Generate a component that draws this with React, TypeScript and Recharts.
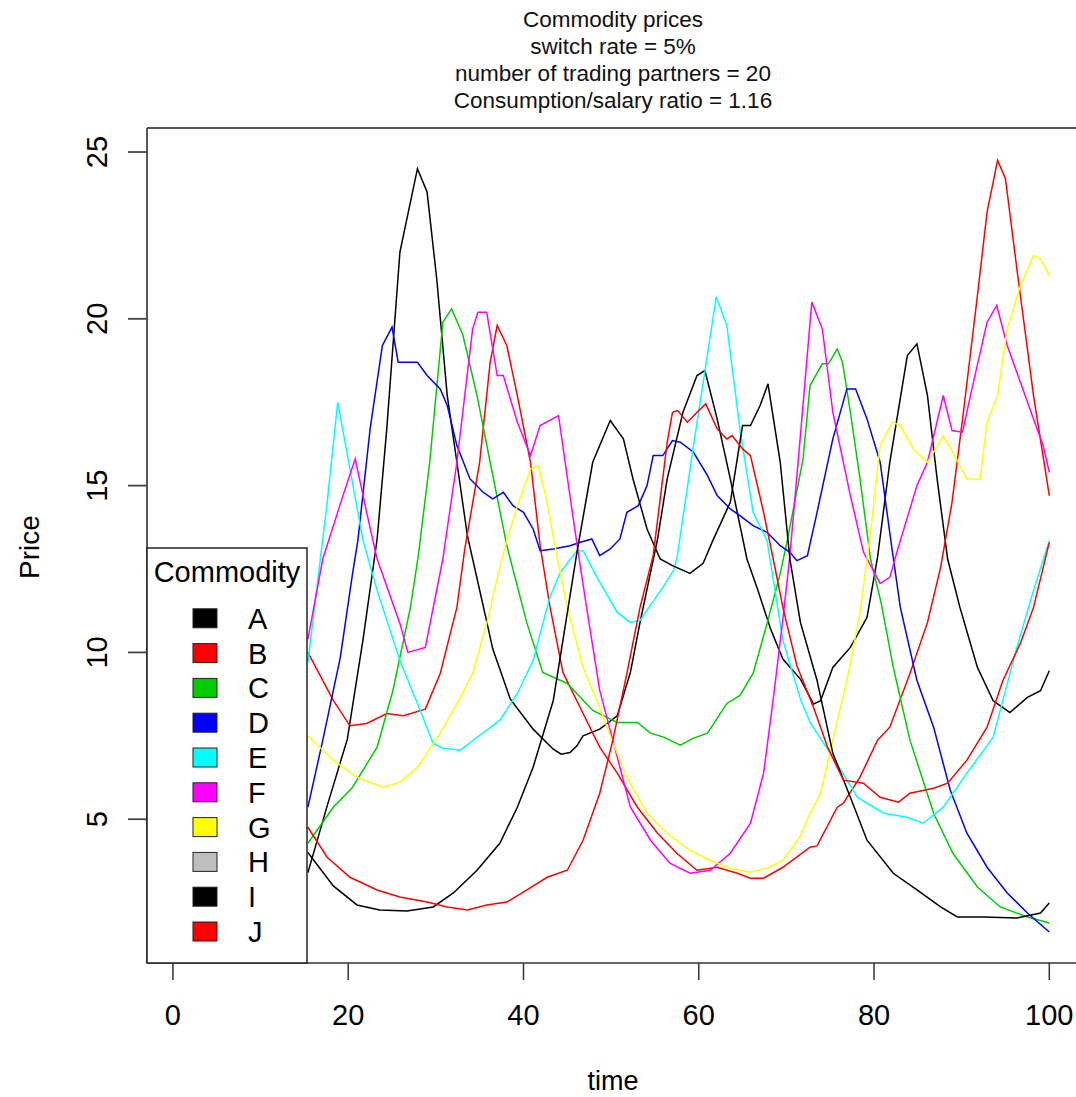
import { LineChart, Line, XAxis, YAxis, ReferenceLine } from "recharts";

const FONT = "'Liberation Sans', Arial, Helvetica, sans-serif";

const commodities = ["A", "B", "C", "D", "E", "F", "G", "H", "I", "J"];
const colors = ["#000000", "#FF0000", "#00CD00", "#0000FF", "#00FFFF", "#FF00FF", "#FFFF00", "#BEBEBE", "#000000", "#FF0000"];
const titleLines = [
  "Commodity prices",
  "switch rate = 5%",
  "number of trading partners = 20",
  "Consumption/salary ratio = 1.16",
];
const xTicks = [0, 20, 40, 60, 80, 100];
const yTicks = [5, 10, 15, 20, 25];

// [time, price]
const priceA: [number, number][] = [
  [15.4, 3.4], [17.6, 5.4], [19.9, 7.4], [21.7, 10.4], [23.3, 13.4], [24.4, 16.7], [25.9, 22.0], [27.9, 24.5],
  [29.0, 23.8], [30.1, 21.2], [31.3, 17.7], [32.4, 15.7], [33.6, 13.5], [35.4, 11.4], [36.5, 10.1], [38.5, 8.6],
  [41.1, 7.7], [43.4, 7.1], [44.3, 6.95], [45.3, 7.0], [46.1, 7.2], [46.8, 7.5], [48.7, 7.7], [50.7, 8.1],
  [52.2, 9.4], [53.3, 10.9], [54.5, 12.4], [55.3, 13.4], [56.4, 15.2], [58.2, 17.2], [59.8, 18.3], [60.7, 18.45],
  [62.1, 17.0], [63.6, 15.2], [65.5, 12.8], [66.7, 11.9], [68.2, 10.7], [69.6, 9.8], [71.6, 9.2], [73.1, 8.45],
  [73.9, 8.55], [75.3, 9.55], [77.3, 10.15], [79.2, 11.05], [80.4, 12.85], [81.8, 15.7], [83.8, 18.9], [84.9, 19.25],
  [86.1, 17.7], [87.2, 15.2], [88.4, 12.8], [89.8, 11.35], [91.8, 9.55], [93.6, 8.55], [95.5, 8.2], [97.5, 8.65],
  [99.0, 8.85], [100, 9.45],
];
const priceB: [number, number][] = [
  [15.4, 10.0], [18.3, 8.56], [20.2, 7.8], [22.1, 7.87], [24.4, 8.17], [26.3, 8.1], [28.8, 8.3], [30.5, 9.37],
  [32.4, 11.35], [33.3, 13.1], [35.0, 15.7], [36.2, 18.7], [37.0, 19.8], [38.1, 19.2], [39.3, 17.7], [40.8, 15.7],
  [41.9, 13.2], [43.0, 11.4], [44.5, 9.4], [46.8, 8.17], [48.7, 7.16], [50.7, 6.38], [53.0, 5.36], [55.3, 4.58],
  [57.5, 3.98], [59.8, 3.47], [62.1, 3.56], [64.4, 3.38], [65.9, 3.23], [67.4, 3.23], [69.6, 3.56], [72.7, 4.16],
  [73.5, 4.2], [75.8, 5.36], [76.5, 5.48], [78.4, 6.26], [80.4, 7.37], [81.8, 7.76], [84.1, 9.37], [86.1, 10.9],
  [87.6, 12.55], [88.9, 14.5], [90.2, 17.2], [91.8, 20.7], [92.9, 23.2], [94.1, 24.75], [95.0, 24.2], [96.3, 21.5],
  [98.2, 17.7], [100, 14.7],
];
const priceC: [number, number][] = [
  [15.4, 4.28], [18.3, 5.36], [20.5, 5.96], [23.3, 7.16], [25.1, 8.86], [27.1, 11.35], [28.0, 12.9], [29.3, 15.7],
  [30.8, 19.9], [31.8, 20.3], [33.1, 19.5], [34.7, 17.7], [36.2, 15.7], [38.1, 13.2], [40.4, 10.87], [42.2, 9.4],
  [45.0, 9.07], [47.9, 8.26], [50.7, 7.9], [53.0, 7.9], [54.5, 7.58], [56.0, 7.46], [57.9, 7.22], [59.4, 7.43],
  [61.0, 7.58], [63.2, 8.47], [64.7, 8.71], [66.2, 9.37], [67.8, 10.87], [69.3, 12.37], [70.1, 13.35], [71.9, 15.8],
  [72.7, 18.0], [74.1, 18.65], [74.8, 18.65], [75.8, 19.1], [76.4, 18.7], [77.3, 17.2], [78.4, 15.2], [79.6, 12.8],
  [80.8, 11.5], [82.2, 9.55], [84.1, 7.37], [86.8, 5.18], [89.0, 3.98], [91.8, 2.97], [94.4, 2.37], [97.5, 2.07],
  [100, 1.89],
];
const priceD: [number, number][] = [
  [15.4, 5.36], [17.1, 7.37], [19.1, 9.85], [20.5, 12.37], [21.1, 13.35], [22.5, 16.7], [23.9, 19.2], [25.0, 19.75],
  [25.7, 18.7], [27.9, 18.7], [29.0, 18.3], [30.5, 17.9], [31.3, 17.4], [32.4, 16.2], [33.9, 15.2], [35.4, 14.8],
  [36.5, 14.6], [37.7, 14.8], [38.8, 14.4], [40.0, 14.2], [41.1, 13.7], [41.9, 13.05], [43.4, 13.1], [45.3, 13.2],
  [46.5, 13.3], [47.8, 13.4], [48.7, 12.9], [49.9, 13.1], [51.0, 13.4], [51.8, 14.2], [53.1, 14.4], [54.1, 15.0],
  [54.8, 15.9], [55.9, 15.9], [57.0, 16.35], [57.9, 16.3], [59.4, 16.0], [61.0, 15.3], [62.1, 14.7], [63.6, 14.3],
  [64.7, 14.1], [66.2, 13.8], [67.8, 13.6], [69.3, 13.2], [70.4, 13.0], [71.2, 12.75], [72.4, 12.9], [73.5, 14.2],
  [75.3, 16.4], [76.9, 17.9], [77.9, 17.9], [79.2, 17.0], [80.7, 15.7], [82.0, 13.2], [83.0, 11.35], [84.9, 9.16],
  [86.8, 7.76], [88.7, 5.87], [90.6, 4.58], [92.9, 3.56], [95.2, 2.79], [97.5, 2.19], [100, 1.62],
];
const priceE: [number, number][] = [
  [15.4, 9.7], [17.6, 14.5], [18.8, 17.5], [21.7, 13.35], [23.3, 11.86], [25.9, 9.76], [27.9, 8.47], [29.7, 7.27],
  [30.8, 7.13], [32.8, 7.07], [34.2, 7.36], [35.8, 7.67], [37.3, 7.97], [39.3, 8.77], [41.1, 9.76], [43.0, 11.65],
  [44.2, 12.4], [46.1, 13.05], [46.8, 13.05], [48.5, 12.2], [50.7, 11.2], [52.2, 10.9], [53.3, 10.96], [55.9, 11.95],
  [57.1, 12.45], [57.5, 12.8], [59.4, 16.2], [62.0, 20.66], [63.2, 19.8], [64.7, 16.7], [66.2, 14.2], [67.8, 13.35],
  [69.6, 10.36], [71.6, 8.6], [72.7, 7.9], [75.3, 6.86], [78.1, 5.66], [81.1, 5.18], [83.8, 5.06], [85.6, 4.88],
  [87.9, 5.36], [90.6, 6.38], [93.6, 7.46], [96.3, 10.15], [98.2, 11.86], [100, 13.35],
];
const priceF: [number, number][] = [
  [15.4, 10.4], [17.1, 12.8], [19.4, 14.7], [20.8, 15.8], [22.1, 14.2], [23.3, 12.8], [25.9, 10.87], [26.8, 10.0],
  [28.8, 10.15], [30.8, 12.8], [32.4, 15.7], [34.2, 19.7], [34.8, 20.2], [35.8, 20.2], [37.0, 18.3], [37.7, 18.3],
  [39.3, 16.9], [40.8, 15.9], [41.9, 16.8], [44.0, 17.1], [45.3, 14.7], [46.3, 12.9], [47.2, 11.35], [48.7, 8.86],
  [50.7, 6.86], [52.2, 5.36], [54.5, 4.37], [56.7, 3.68], [59.0, 3.38], [61.3, 3.47], [63.6, 3.98], [65.9, 4.88],
  [67.4, 6.38], [68.5, 8.6], [69.6, 11.0], [70.4, 12.9], [71.6, 16.5], [72.9, 20.5], [74.1, 19.7], [75.3, 17.2],
  [77.3, 14.7], [78.8, 13.0], [80.7, 12.07], [81.8, 12.25], [82.6, 13.0], [84.9, 15.0], [86.1, 15.7], [87.9, 17.7],
  [88.9, 16.65], [90.1, 16.6], [91.0, 17.7], [92.9, 19.9], [94.0, 20.4], [95.2, 19.2], [96.7, 18.1], [98.2, 17.0],
  [99.3, 16.2], [100, 15.4],
];
const priceG: [number, number][] = [
  [15.4, 7.5], [18.3, 6.77], [21.0, 6.26], [24.0, 5.96], [25.9, 6.11], [27.9, 6.56], [30.5, 7.58], [32.8, 8.65],
  [34.2, 9.37], [35.8, 10.87], [37.3, 12.55], [38.1, 13.35], [39.3, 14.4], [40.8, 15.5], [41.7, 15.6], [42.7, 14.5],
  [43.8, 12.9], [45.0, 11.35], [46.8, 9.55], [48.7, 8.35], [50.1, 7.37], [51.8, 6.26], [54.1, 5.18], [56.4, 4.58],
  [59.0, 4.07], [61.3, 3.77], [63.6, 3.53], [65.9, 3.41], [67.8, 3.53], [69.6, 3.77], [71.6, 4.5], [72.7, 5.18],
  [73.9, 5.78], [75.3, 7.37], [76.9, 9.16], [78.4, 11.17], [79.6, 13.6], [80.7, 16.2], [82.1, 16.9], [83.0, 16.8],
  [84.5, 16.1], [86.1, 15.7], [87.9, 16.5], [89.0, 16.0], [90.6, 15.2], [92.1, 15.2], [92.9, 16.9], [94.1, 17.7],
  [95.2, 19.7], [96.7, 21.0], [98.2, 21.9], [99.0, 21.8], [100, 21.3],
];
const priceH: [number, number][] = [];
const priceI: [number, number][] = [
  [15.4, 4.0], [18.3, 3.0], [21.0, 2.43], [23.6, 2.28], [26.7, 2.25], [29.7, 2.37], [32.0, 2.79], [34.7, 3.47],
  [37.3, 4.28], [39.3, 5.36], [41.1, 6.56], [43.4, 8.56], [44.5, 10.36], [46.1, 13.0], [47.9, 15.7], [49.9, 16.95],
  [51.4, 16.4], [52.5, 15.2], [54.1, 13.7], [55.6, 12.8], [57.0, 12.6], [59.0, 12.37], [60.5, 12.67], [61.6, 13.35],
  [63.6, 14.5], [65.0, 16.8], [65.9, 16.8], [67.0, 17.4], [67.9, 18.05], [69.3, 15.7], [70.4, 12.8], [71.6, 10.9],
  [73.5, 9.16], [75.3, 6.98], [77.3, 5.66], [79.2, 4.37], [82.2, 3.38], [84.9, 2.88], [87.6, 2.37], [89.5, 2.07],
  [92.5, 2.07], [96.3, 2.04], [99.0, 2.19], [100, 2.49],
];
const priceJ: [number, number][] = [
  [15.4, 4.76], [17.6, 3.86], [20.2, 3.26], [23.3, 2.88], [25.9, 2.67], [29.0, 2.52], [31.3, 2.37], [33.6, 2.28],
  [35.8, 2.43], [38.1, 2.52], [40.4, 2.88], [42.7, 3.26], [45.0, 3.47], [46.8, 4.37], [48.7, 5.78], [50.2, 7.37],
  [51.8, 9.37], [53.3, 11.35], [54.8, 12.9], [56.4, 16.3], [57.0, 17.2], [57.6, 17.25], [58.7, 16.9], [59.8, 17.2],
  [60.8, 17.45], [62.1, 16.7], [63.2, 16.4], [63.8, 16.5], [65.0, 16.1], [65.9, 15.9], [67.4, 14.2], [68.5, 12.8],
  [69.6, 11.35], [71.2, 9.6], [73.1, 8.35], [74.7, 7.16], [76.5, 6.17], [78.8, 6.08], [80.7, 5.66], [82.8, 5.51],
  [84.1, 5.78], [86.8, 5.93], [88.4, 6.08], [90.6, 6.77], [92.9, 7.76], [94.7, 9.16], [96.7, 10.27], [98.2, 11.35],
  [100, 13.3],
];

const seriesPoints = [priceA, priceB, priceC, priceD, priceE, priceF, priceG, priceH, priceI, priceJ];

function PriceTick(props: any) {
  const { x, y, payload } = props;
  const tx = x - 21;
  return (
    <text
      x={tx}
      y={y}
      transform={`rotate(-90 ${tx} ${y})`}
      textAnchor="middle"
      fontSize={29}
      fontFamily={FONT}
      fill="#000"
    >
      {payload.value}
    </text>
  );
}

export default function App() {
  return (
    <div
      style={{
        position: "absolute",
        left: 0,
        top: 0,
        width: 1076,
        height: 1097,
        overflow: "hidden",
        background: "#fff",
        fontFamily: FONT,
      }}
    >
      <LineChart width={1084} height={1097} margin={{ top: 128, right: 0, bottom: 74, left: 87 }}>
        <XAxis
          type="number"
          dataKey="t"
          domain={[-2.96, 103.96]}
          ticks={xTicks}
          interval={0}
          allowDataOverflow
          height={60}
          tickSize={17}
          tickMargin={24}
          stroke="#333"
          strokeWidth={1.5}
          tick={{ fontSize: 29, fill: "#000", fontFamily: FONT }}
        />
        <YAxis
          type="number"
          dataKey="v"
          domain={[0.69, 25.72]}
          ticks={yTicks}
          interval={0}
          allowDataOverflow
          width={60}
          tickSize={19}
          tickMargin={0}
          stroke="#444"
          strokeWidth={1.8}
          tick={<PriceTick />}
        />
        <ReferenceLine y={25.72} stroke="#555" strokeWidth={2} />
        {commodities.map((name, i) =>
          seriesPoints[i].length ? (
            <Line
              key={name}
              name={name}
              data={seriesPoints[i].map(([t, v]) => ({ t, v }))}
              dataKey="v"
              type="linear"
              stroke={colors[i]}
              strokeWidth={1.5}
              dot={false}
              isAnimationActive={false}
            />
          ) : null
        )}
      </LineChart>

      <svg
        width={1076}
        height={1097}
        style={{ position: "absolute", left: 0, top: 0, pointerEvents: "none" }}
        fontFamily={FONT}
      >
        {titleLines.map((line, i) => (
          <text key={line} x={613} y={27 + i * 27} textAnchor="middle" fontSize={22.5} fill="#111">
            {line}
          </text>
        ))}
        <text x={39} y={547} transform="rotate(-90 39 547)" textAnchor="middle" fontSize={28} fill="#000">
          Price
        </text>
        <text x={613} y={1090} textAnchor="middle" fontSize={27} fill="#000">
          time
        </text>

        <g transform="translate(147 548)">
          <rect x={0} y={0} width={160} height={415} fill="#fff" stroke="#222" strokeWidth={1.5} />
          <text x={80} y={34} textAnchor="middle" fontSize={29} fill="#000">
            Commodity
          </text>
          {commodities.map((name, i) => {
            const cy = 70.3 + i * 34.8;
            return (
              <g key={name}>
                <rect x={46} y={cy - 9.5} width={24} height={19} fill={colors[i]} stroke="#222" strokeWidth={1} />
                <text x={101} y={cy + 10.5} fontSize={29} fill="#000">
                  {name}
                </text>
              </g>
            );
          })}
        </g>
      </svg>
    </div>
  );
}
